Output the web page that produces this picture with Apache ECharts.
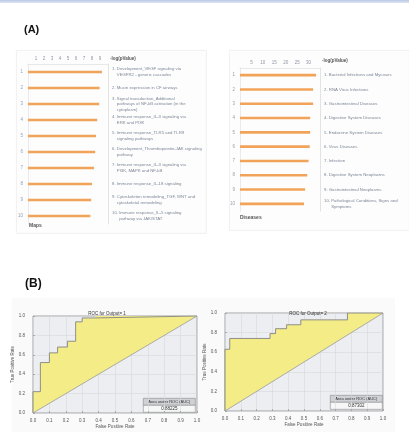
<!DOCTYPE html>
<html>
<head>
<meta charset="utf-8">
<script src="https://cdn.jsdelivr.net/npm/echarts@6/dist/echarts.min.js"></script>
<style>
  html, body { margin: 0; padding: 0; background: #ffffff; }
  #chart { width: 409px; height: 435px; }
</style>
</head>
<body>
<div id="chart"></div>
<script>
// Panel A: top enriched pathway maps and disease categories, -log(pValue)
const mapRanks = ['1', '2', '3', '4', '5', '6', '7', '8', '9', '10'];
const mapNames = [
  '1. Development_VEGF signaling via\n    VEGFR2 - generic cascades',
  '2. Mucin expression in CF airways',
  '3. Signal transduction_Additional\n    pathways of NF-kB activation (in the\n    cytoplasm)',
  '4. Immune response_IL-3 signaling via\n    ERK and PI3K',
  '5. Immune response_TLR5 and TLR9\n    signaling pathways',
  '6. Development_Thrombopoietin-JAK signaling\n    pathway',
  '7. Immune response_IL-3 signaling via\n    PI3K, MAPK and NF-kB',
  '8. Immune response_IL-18 signaling',
  '9. Cytoskeleton remodeling_TGF, WNT and\n    cytoskeletal remodeling',
  '10. Immune response_IL-5 signaling\n      pathway via JAK/STAT'
];
const mapScores = [9.25, 8.95, 8.9, 8.65, 8.5, 8.4, 8.25, 8.0, 7.9, 7.8];

const diseaseRanks = ['1', '2', '3', '4', '5', '6', '7', '8', '9', '10'];
const diseaseNames = [
  '1. Bacterial Infections and Mycoses',
  '2. RNA Virus Infections',
  '3. Gastrointestinal Diseases',
  '4. Digestive System Diseases',
  '5. Endocrine System Diseases',
  '6. Virus Diseases',
  '7. Infection',
  '8. Digestive System Neoplasms',
  '9. Gastrointestinal Neoplasms',
  '10. Pathological Conditions, Signs and\n      Symptoms'
];
const diseaseScores = [33.3, 32.0, 32.0, 30.7, 30.7, 30.5, 30.0, 29.4, 28.5, 28.0];

// Panel B: ROC curves (step vertices, false positive rate vs true positive rate)
const roc1Fpr = [0, 0, 0.045, 0.045, 0.10, 0.10, 0.15, 0.15, 0.21, 0.21, 0.26, 0.26, 0.30, 0.30, 0.38, 0.38, 1.0];
const roc1Tpr = [0, 0.22, 0.22, 0.52, 0.52, 0.62, 0.62, 0.68, 0.68, 0.74, 0.74, 0.94, 0.94, 0.98, 0.98, 1.0, 1.0];
const roc2Fpr = [0, 0, 0.03, 0.03, 0.285, 0.285, 0.32, 0.32, 0.39, 0.39, 0.48, 0.48, 0.775, 0.775, 1.0];
const roc2Tpr = [0, 0.63, 0.63, 0.74, 0.74, 0.79, 0.79, 0.84, 0.84, 0.88, 0.88, 0.93, 0.93, 1.0, 1.0];
const rocTitles = ['ROC for Output= 1', 'ROC for Output= 2'];
const rocAuc = ['0.88225', '0.87302'];

const FONT = '"Liberation Sans", Arial, sans-serif';
const TEXT_GREY = '#7d8796';
const BAR_ORANGE = '#f2a35a';
const ROC_YELLOW = '#f4ec86';

const chart = echarts.init(document.getElementById('chart'), null, { renderer: 'canvas' });

function pairs(xs, ys) { return xs.map((x, i) => [x, ys[i]]); }

// yellow region between the ROC curve and the chance diagonal
function rocFill(fpr, tpr) {
  return function (params, api) {
    if (params.dataIndex !== 0) return null;
    const pts = fpr.map((x, i) => api.coord([x, tpr[i]]));
    pts.push(api.coord([0, 0]));
    return { type: 'polygon', shape: { points: pts }, style: { fill: ROC_YELLOW, stroke: null } };
  };
}

function barAxes(gridIndex, max, interval) {
  return {
    gridIndex: gridIndex, type: 'value', position: 'top', min: 0, max: max, interval: interval,
    axisLine: { show: true, lineStyle: { color: '#e2e2e2', width: 0.8 } },
    axisTick: { show: false },
    splitLine: { show: false },
    axisLabel: {
      fontSize: 4.5, color: '#8f96a3', margin: 3,
      formatter: v => (v > 0 && v < max) ? String(v) : ''
    }
  };
}

function rankAxis(gridIndex, data) {
  return {
    gridIndex: gridIndex, type: 'category', data: data, inverse: true, position: 'left',
    axisLine: { show: true, lineStyle: { color: '#e4e4e4', width: 0.8 } },
    axisTick: { show: false },
    axisLabel: { fontSize: 4.5, color: '#9aa0aa', margin: 5 }
  };
}

function nameAxis(gridIndex, data) {
  return {
    gridIndex: gridIndex, type: 'category', data: data, inverse: true, position: 'right',
    axisLine: { show: true, lineStyle: { color: '#dcdcdc', width: 0.8 } },
    axisTick: { show: false },
    axisLabel: { fontSize: 4.3, lineHeight: 5.6, color: TEXT_GREY, margin: 4, align: 'left' }
  };
}

function rocX(gridIndex) {
  return {
    gridIndex: gridIndex, type: 'value', min: 0, max: 1, interval: 0.1,
    name: 'False Positive Rate', nameLocation: 'middle', nameGap: 11,
    nameTextStyle: { fontSize: 4.5, color: '#555' },
    axisLine: { show: false }, axisTick: { show: true, inside: true, length: 2, lineStyle: { color: '#888', width: 0.6 } },
    splitLine: { show: true, lineStyle: { color: '#d6d9de', width: 0.6 } },
    axisLabel: { fontSize: 4.5, color: '#555', margin: 5, formatter: v => v.toFixed(1) }
  };
}

function rocY(gridIndex) {
  return {
    gridIndex: gridIndex, type: 'value', min: 0, max: 1, interval: 0.2,
    name: 'True Positive Rate', nameLocation: 'middle', nameGap: 15,
    nameTextStyle: { fontSize: 4.5, color: '#555' },
    axisLine: { show: false }, axisTick: { show: true, inside: true, length: 2, lineStyle: { color: '#888', width: 0.6 } },
    splitLine: { show: true, lineStyle: { color: '#d6d9de', width: 0.6 } },
    axisLabel: { fontSize: 4.5, color: '#555', margin: 8, formatter: v => v.toFixed(1) }
  };
}

function aucBox(x, y, w, h, value) {
  return {
    type: 'group', left: x, top: y, children: [
      { type: 'rect', shape: { x: 0, y: 0, width: w, height: h / 2 }, style: { fill: '#cfd1d4', stroke: '#8a8a8a', lineWidth: 0.6 } },
      { type: 'rect', shape: { x: 0, y: h / 2, width: w, height: h / 2 }, style: { fill: '#f7f7f7', stroke: '#8a8a8a', lineWidth: 0.6 } },
      { type: 'text', x: w / 2, y: h / 4, style: { text: 'Area under ROC (AUC)', font: '4px ' + FONT, fill: '#333', align: 'center', verticalAlign: 'middle' } },
      { type: 'text', x: w / 2, y: 3 * h / 4, style: { text: value, font: '4.5px ' + FONT, fill: '#333', align: 'center', verticalAlign: 'middle' } }
    ]
  };
}

const option = {
  animation: false,
  backgroundColor: '#ffffff',
  textStyle: { fontFamily: FONT },
  title: [
    { text: rocTitles[0], left: 102, top: 306, textAlign: 'center', textStyle: { fontSize: 4.5, fontWeight: 'normal', color: '#333' } },
    { text: rocTitles[1], left: 303, top: 306, textAlign: 'center', textStyle: { fontSize: 4.5, fontWeight: 'normal', color: '#333' } }
  ],
  grid: [
    { left: 28, top: 64, width: 80, height: 160 },
    { left: 240, top: 68, width: 80, height: 143 },
    { left: 33, top: 316, width: 164, height: 97, show: true, backgroundColor: '#eceef1', borderColor: '#8d8d8d', borderWidth: 0.8 },
    { left: 225, top: 313, width: 158, height: 98, show: true, backgroundColor: '#eceef1', borderColor: '#8d8d8d', borderWidth: 0.8 }
  ],
  xAxis: [
    barAxes(0, 10, 1),
    barAxes(1, 35, 5),
    rocX(2),
    rocX(3)
  ],
  yAxis: [
    rankAxis(0, mapRanks),
    nameAxis(0, mapNames),
    rankAxis(1, diseaseRanks),
    nameAxis(1, diseaseNames),
    rocY(2),
    rocY(3)
  ],
  series: [
    { type: 'bar', xAxisIndex: 0, yAxisIndex: 0, data: mapScores, barWidth: 2.6, itemStyle: { color: BAR_ORANGE } },
    { type: 'bar', xAxisIndex: 1, yAxisIndex: 2, data: diseaseScores, barWidth: 2.6, itemStyle: { color: BAR_ORANGE } },

    { type: 'custom', xAxisIndex: 2, yAxisIndex: 4, data: pairs(roc1Fpr, roc1Tpr), renderItem: rocFill(roc1Fpr, roc1Tpr), z: 1 },
    { type: 'line', xAxisIndex: 2, yAxisIndex: 4, data: pairs(roc1Fpr, roc1Tpr), showSymbol: false, lineStyle: { color: '#858585', width: 0.9 }, z: 3 },
    { type: 'line', xAxisIndex: 2, yAxisIndex: 4, data: [[0, 0], [1, 1]], showSymbol: false, lineStyle: { color: '#9b9b9b', width: 0.8 }, z: 3 },

    { type: 'custom', xAxisIndex: 3, yAxisIndex: 5, data: pairs(roc2Fpr, roc2Tpr), renderItem: rocFill(roc2Fpr, roc2Tpr), z: 1 },
    { type: 'line', xAxisIndex: 3, yAxisIndex: 5, data: pairs(roc2Fpr, roc2Tpr), showSymbol: false, lineStyle: { color: '#858585', width: 0.9 }, z: 3 },
    { type: 'line', xAxisIndex: 3, yAxisIndex: 5, data: [[0, 0], [1, 1]], showSymbol: false, lineStyle: { color: '#9b9b9b', width: 0.8 }, z: 3 }
  ],
  graphic: [
    // page header strip
    { type: 'rect', left: 0, top: 0, shape: { width: 409, height: 3 }, z: -10,
      style: { fill: new echarts.graphic.LinearGradient(0, 0, 0, 1, [{ offset: 0, color: '#b9c8e6' }, { offset: 1, color: '#dfe6f3' }]) } },
    // panel frames
    { type: 'rect', left: 16, top: 50, shape: { width: 190, height: 183 }, z: -10, silent: true,
      style: { fill: '#fdfdfd', stroke: '#ececec', lineWidth: 0.8 } },
    { type: 'rect', left: 229, top: 50, shape: { width: 180, height: 180 }, z: -10, silent: true,
      style: { fill: '#fdfdfd', stroke: '#ececec', lineWidth: 0.8 } },
    { type: 'rect', left: 12, top: 298, shape: { width: 193, height: 134 }, z: -10, silent: true,
      style: { fill: '#fafafa' } },
    { type: 'rect', left: 205, top: 298, shape: { width: 190, height: 134 }, z: -10, silent: true,
      style: { fill: '#fafafa' } },
    // panel letters
    { type: 'text', left: 24, top: 24, style: { text: '(A)', font: 'bold 11px ' + FONT, fill: '#111' } },
    { type: 'text', left: 25, top: 278, style: { text: '(B)', font: 'bold 12px ' + FONT, fill: '#111' } },
    // column headers and footers
    { type: 'text', left: 110, top: 56, style: { text: '-log(pValue)', font: 'bold 4.5px ' + FONT, fill: '#555' } },
    { type: 'text', left: 322, top: 58, style: { text: '-log(pValue)', font: 'bold 4.5px ' + FONT, fill: '#555' } },
    { type: 'text', left: 29, top: 223, style: { text: 'Maps', font: 'bold 5px ' + FONT, fill: '#555' } },
    { type: 'text', left: 240, top: 215, style: { text: 'Diseases', font: 'bold 5px ' + FONT, fill: '#555' } },
    // AUC tables
    aucBox(143, 398, 52, 14, rocAuc[0]),
    aucBox(330, 395, 52, 14, rocAuc[1])
  ]
};

chart.setOption(option);
</script>
</body>
</html>
